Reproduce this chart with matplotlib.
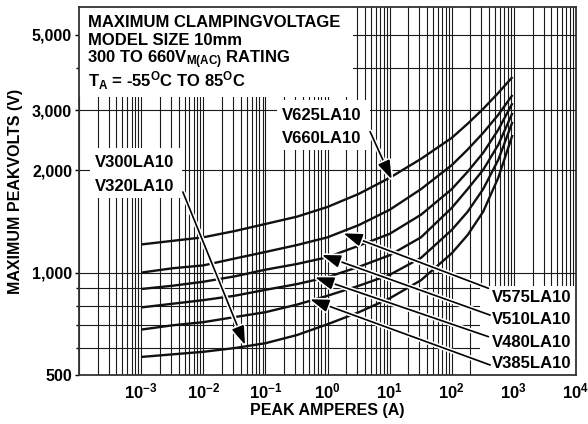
import numpy as np
import matplotlib
matplotlib.use("Agg")
import matplotlib.pyplot as plt
import matplotlib.patheffects as pe
from matplotlib.patches import Rectangle
from matplotlib.ticker import FixedLocator, FixedFormatter

plt.rcParams["font.family"] = ["Liberation Sans", "DejaVu Sans"]
plt.rcParams["font.weight"] = "bold"
plt.rcParams["mathtext.fontset"] = "custom"
plt.rcParams["mathtext.rm"] = "Liberation Sans:bold"
plt.rcParams["mathtext.bf"] = "Liberation Sans:bold"
plt.rcParams["mathtext.it"] = "Liberation Sans:bold"
plt.rcParams["mathtext.default"] = "rm"

PEAK_AMPS = [0.001, 0.0032, 0.01, 0.032, 0.1, 0.32, 1, 3.2, 10, 32,
             100, 180, 320, 560, 950]

V625_660 = [1210, 1240, 1270, 1325, 1390, 1460, 1560, 1705, 1900, 2160,
            2490, 2740, 3030, 3375, 3760]
V575 = [1000, 1030, 1050, 1100, 1150, 1205, 1270, 1380, 1530, 1760,
        2070, 2300, 2575, 2910, 3330]
V510 = [895, 915, 940, 975, 1020, 1060, 1110, 1200, 1300, 1480,
        1760, 1980, 2250, 2630, 3150]
V480 = [790, 810, 830, 855, 890, 925, 970, 1040, 1125, 1270,
        1550, 1760, 2005, 2375, 2950]
V385 = [680, 700, 715, 740, 765, 805, 855, 915, 985, 1105,
        1335, 1510, 1760, 2145, 2775]
V300_320 = [565, 575, 585, 600, 620, 655, 705, 765, 840, 950,
            1140, 1290, 1510, 1900, 2540]

CURVES = [V625_660, V575, V510, V480, V385, V300_320]

Y_MAJOR = [500, 1000, 2000, 3000, 5000]
Y_LABELS = ["500", "1,000", "2,000", "3,000", "5,000"]
Y_MINOR = [600, 700, 800, 900, 4000]

X_DECADES = list(range(-4, 5))

# (tail near the label, arrow tip on the curve), data coords
ARROWS = [
    ((0.0047, 1726), (0.0471, 613)),   # V300/V320
    ((4.85, 2597), (10.8, 1880)),      # V625/V660
    ((390, 899), (1.80, 1305)),        # V575
    ((415, 750), (0.81, 1127)),        # V510
    ((390, 648), (0.63, 969)),         # V480
    ((415, 535), (0.525, 835)),        # V385
]

fig = plt.figure(figsize=(5.88, 4.24), dpi=100)
ax = fig.add_axes([79 / 588, 1 - 375 / 424, 497 / 588, 368 / 424])
ax.set_xscale("log")
ax.set_yscale("log")
ax.set_xlim(1e-4, 1e4)
ax.set_ylim(500, 6040)

# ticks + grid
xmaj = [10.0 ** d for d in X_DECADES]
xmin = [m * 10.0 ** d for d in X_DECADES[:-1] for m in range(2, 10)]
ax.xaxis.set_major_locator(FixedLocator(xmaj))
ax.xaxis.set_minor_locator(FixedLocator(xmin))
xlbls = [""] + [r"$10^{%d}$" % d for d in X_DECADES[1:]]
ax.xaxis.set_major_formatter(FixedFormatter(xlbls))
ax.xaxis.set_minor_formatter(FixedFormatter([]))

ax.yaxis.set_major_locator(FixedLocator(Y_MAJOR))
ax.yaxis.set_major_formatter(FixedFormatter(Y_LABELS))
ax.yaxis.set_minor_locator(FixedLocator(Y_MINOR))
ax.yaxis.set_minor_formatter(FixedFormatter([]))

ax.grid(which="both", color="#1a1a1a", lw=0.8, zorder=0)
ax.set_axisbelow(True)
ax.tick_params(axis="x", which="both", length=0, pad=5, labelsize=12)
ax.tick_params(axis="y", which="major", length=3, width=1, pad=2, labelsize=11.5)
ax.tick_params(axis="y", which="minor", length=2, width=1)
for sp in ax.spines.values():
    sp.set_color("#333")
    sp.set_linewidth(1.3)

ax.set_xlabel("PEAK AMPERES (A)", fontsize=11.5, fontweight="bold")
ax.set_ylabel("MAXIMUM PEAKVOLTS (V)", fontsize=11.5, fontweight="bold")
ax.xaxis.set_label_coords(0.5, -0.076)
ax.yaxis.set_label_coords(-0.113, 0.5)

for vals in CURVES:
    ax.plot(PEAK_AMPS, vals, color="#111", lw=1.7, zorder=3,
            solid_joinstyle="round", solid_capstyle="butt")

# white boxes behind the text blocks
boxes = [
    (0.0, 0.7554, 0.5513, 0.2446),
    (0.3978, 0.6114, 0.1877, 0.1359),
    (0.0221, 0.481, 0.1851, 0.1358),
    (0.8068, 0.0, 0.1932, 0.2418),
]
for bx, by, bw, bh in boxes:
    ax.add_patch(Rectangle((bx, by), bw, bh, transform=ax.transAxes,
                           fc="white", ec="none", zorder=2))

fs = 12
tkw = dict(transform=ax.transAxes, fontsize=fs, fontweight="bold",
           va="baseline", zorder=4)
ax.text(0.018, 0.9457, "MAXIMUM CLAMPINGVOLTAGE", **tkw)
ax.text(0.018, 0.8967, "MODEL SIZE 10mm", **tkw)
ax.text(0.016, 0.848, r"300 TO 660V$_{\mathrm{M(AC)}}$ RATING", **tkw)
ax.text(0.018, 0.784, r"T$_{\mathrm{A}}$ = -55$^{\mathrm{O}}$C TO 85$^{\mathrm{O}}$C", **tkw)

ax.text(0.4078, 0.693, "V625LA10", **tkw)
ax.text(0.4078, 0.6296, "V660LA10", **tkw)
ax.text(0.0322, 0.566, "V300LA10", **tkw)
ax.text(0.0322, 0.5008, "V320LA10", **tkw)
for yy, s in zip([0.1992, 0.1386, 0.0769, 0.0182],
                 ["V575LA10", "V510LA10", "V480LA10", "V385LA10"]):
    ax.text(0.9913, yy, s, ha="right", **tkw)

for start, tip in ARROWS:
    an = ax.annotate("", xy=tip, xytext=start, zorder=5,
                     arrowprops=dict(arrowstyle="-|>,head_length=0.95,head_width=0.32",
                                     color="black", lw=1.2, mutation_scale=12,
                                     shrinkA=0, shrinkB=0))
    an.arrow_patch.set_path_effects([pe.Stroke(linewidth=3.5, foreground="white"),
                                     pe.Normal()])

fig.savefig("out.png", dpi=100)
